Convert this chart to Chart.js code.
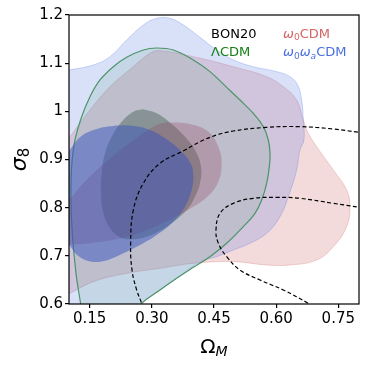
<!DOCTYPE html>
<html><head><meta charset="utf-8">
<script src="https://cdn.jsdelivr.net/npm/chart.js@4.4.1/dist/chart.umd.min.js"></script>
<style>html,body{margin:0;padding:0;background:#fff;overflow:hidden}canvas{display:block}</style>
</head><body>
<canvas id="c" width="373" height="367"></canvas>
<script>
// ---- tick labels ----
const xTicks=[0.15,0.30,0.45,0.60,0.75];
const xTickLabels=["0.15","0.30","0.45","0.60","0.75"];
const yTicks=[0.6,0.7,0.8,0.9,1.0,1.1,1.2];
const yTickLabels=["0.6","0.7","0.8","0.9","1","1.1","1.2"];
const xTitle=["Ω","M"];
const yTitle=["σ","8"];
// ---- series names (text after "_" is a subscript character) ----
const seriesNames=["BON20","ΛCDM","ω_0CDM","ω_0ω_aCDM"];
const seriesColors=["#000000","#138013","#d46464","#4a6fe0"];
// ---- contour: omega0 omega_a CDM (2 sigma) ----
const waOuterX=[0.05,0.10,0.1587,0.199,0.2392,0.2794,0.3116,0.3438,0.376,0.4162,0.4564,0.4967,0.5449,0.6013,0.6334,0.6519,0.6616,0.6656,0.6672,0.6576,0.6495,0.6294,0.6093,0.5771,0.5369,0.4967,0.4564,0.4162,0.3599,0.3196,0.2754,0.2553,0.20,0.05];
const waOuterY=[1.078,1.0858,1.0962,1.1135,1.1481,1.1792,1.1931,1.1931,1.1792,1.1536,1.1273,1.1066,1.0927,1.0824,1.072,1.0547,1.0235,0.982,0.9405,0.92,0.878,0.8228,0.7813,0.7467,0.726,0.7121,0.6983,0.6879,0.6533,0.6291,0.6014,0.5806,0.56,0.56];
// ---- contour: omega0 CDM (2 sigma) ----
const w0OuterX=[0.0541,0.1024,0.1507,0.199,0.2553,0.2955,0.3196,0.4001,0.4967,0.5771,0.6173,0.6495,0.6656,0.6777,0.6978,0.738,0.7702,0.7782,0.7702,0.738,0.6978,0.6334,0.5771,0.4967,0.4001,0.3196,0.2392,0.1587,0.1024,0.0541];
const w0OuterY=[0.892,0.9474,1.0028,1.0512,1.0927,1.1204,1.126,1.1135,1.0927,1.072,1.0512,1.0235,0.982,0.9543,0.9266,0.8782,0.8367,0.8021,0.7606,0.719,0.6913,0.681,0.681,0.6879,0.6844,0.674,0.6637,0.6464,0.6221,0.6014];
// ---- contour: LambdaCDM (2 sigma) ----
const lcdmOuterX=[0.1282,0.1169,0.108,0.1048,0.1064,0.1145,0.1306,0.1507,0.1748,0.207,0.2392,0.2794,0.3116,0.3518,0.4001,0.4403,0.4806,0.5127,0.5449,0.5691,0.5811,0.5852,0.5836,0.5771,0.5651,0.549,0.5208,0.4806,0.4403,0.4001,0.3599,0.3196,0.2754,0.2472,0.175,0.1306];
const lcdmOuterY=[0.60,0.6637,0.7467,0.8159,0.8851,0.9405,0.9889,1.0304,1.0651,1.0927,1.1121,1.1273,1.1315,1.1273,1.1066,1.0824,1.0498,1.0235,0.9958,0.9682,0.9405,0.9128,0.8851,0.8505,0.8159,0.7882,0.7606,0.726,0.6983,0.6761,0.6533,0.6291,0.6014,0.5668,0.553,0.567];
// ---- contour: LambdaCDM (1 sigma) ----
const lcdmInnerX=[0.2794,0.3116,0.3438,0.376,0.4041,0.4186,0.4162,0.4041,0.384,0.3357,0.2875,0.2472,0.2231,0.199,0.1829,0.1772,0.1788,0.1869,0.203,0.2272,0.2553];
const lcdmInnerY=[1.0042,0.9958,0.9765,0.9509,0.9197,0.8851,0.8505,0.8228,0.7952,0.7606,0.7398,0.7343,0.7384,0.7571,0.7882,0.8298,0.8713,0.9128,0.9474,0.9785,0.9993];
// ---- contour: omega0 CDM (1 sigma) ----
const w0InnerX=[0.3357,0.392,0.4363,0.4605,0.4685,0.4605,0.4323,0.384,0.3277,0.2714,0.215,0.1587,0.10,0.0622,0.054,0.0702,0.10,0.1266,0.1587,0.199,0.2392,0.2794,0.3116];
const w0InnerY=[0.9772,0.9737,0.9578,0.9266,0.892,0.854,0.8215,0.7938,0.7689,0.7481,0.7343,0.7273,0.7239,0.729,0.7605,0.7952,0.8159,0.8436,0.8713,0.9024,0.9301,0.9543,0.9716];
// ---- contour: omega0 omega_a CDM (1 sigma) ----
const waInnerX=[0.0863,0.10,0.1266,0.1587,0.207,0.2553,0.2955,0.3357,0.372,0.3937,0.4001,0.3961,0.38,0.3518,0.3116,0.2714,0.2311,0.199,0.1748,0.1467,0.1225,0.1064,0.0903,0.0823];
const waInnerY=[0.9059,0.9183,0.946,0.9612,0.9696,0.9696,0.9612,0.9419,0.9163,0.892,0.8678,0.8367,0.8021,0.7709,0.7433,0.7225,0.7052,0.6927,0.6879,0.6893,0.6997,0.7156,0.7398,0.8159];
// ---- BON20 dashed curves ----
const bonAX=[0.279,0.2754,0.2633,0.2521,0.2488,0.2553,0.2794,0.3196,0.38,0.4162,0.4564,0.4967,0.5771,0.6576,0.738,0.80,0.82];
const bonAY=[0.59,0.6014,0.6291,0.6706,0.726,0.7952,0.8505,0.892,0.9197,0.937,0.9509,0.9592,0.9668,0.9682,0.9633,0.9564,0.954];
const bonBX=[0.69,0.6777,0.6173,0.561,0.5127,0.4806,0.4605,0.4548,0.4645,0.4967,0.5449,0.6013,0.6576,0.738,0.80,0.82];
const bonBY=[0.594,0.6014,0.6291,0.6498,0.6706,0.6983,0.726,0.7536,0.7882,0.809,0.8194,0.8215,0.8194,0.809,0.8007,0.797];

function pts(xs,ys,close){
  const p=xs.map((x,i)=>({x:x,y:ys[i]}));
  if(close) p.push({x:xs[0],y:ys[0]});
  return p;
}
function contour(xs,ys,fillC,lineC,lw,order){
  return {data:pts(xs,ys,true),showLine:true,fill:'shape',backgroundColor:fillC,
    borderColor:lineC,borderWidth:lw,tension:0.4,pointRadius:0,order:order};
}
const datasets=[
  {data:pts(bonAX,bonAY,false),showLine:true,fill:false,borderColor:'#000',borderWidth:1.2,borderDash:[4,2.5],tension:0.4,pointRadius:0,order:0},
  {data:pts(bonBX,bonBY,false),showLine:true,fill:false,borderColor:'#000',borderWidth:1.2,borderDash:[4,2.5],tension:0.4,pointRadius:0,order:0},
  contour(waInnerX,waInnerY,'rgba(55,85,190,0.50)','rgba(0,0,0,0)',0,1),
  contour(w0InnerX,w0InnerY,'rgba(150,70,100,0.30)','rgba(0,0,0,0)',0,2),
  contour(lcdmInnerX,lcdmInnerY,'rgba(70,95,80,0.45)','rgba(0,0,0,0)',0,3),
  contour(lcdmOuterX,lcdmOuterY,'rgba(46,139,87,0.12)','#4b9468',1.2,4),
  contour(waOuterX,waOuterY,'rgba(65,105,225,0.20)','rgba(65,105,225,0.25)',1,5),
  contour(w0OuterX,w0OuterY,'rgba(205,92,92,0.22)','rgba(205,92,92,0.25)',1,6)
];

const FONT='"DejaVu Sans"';
function drawRich(ctx,x,y,str,color,size){
  let cx=x;
  ctx.fillStyle=color; ctx.textBaseline='alphabetic'; ctx.textAlign='left';
  for(let i=0;i<str.length;i++){
    let ch=str[i], sub=false;
    if(ch==='_'){ sub=true; i++; ch=str[i]; }
    const ital=(ch==='ω'||sub&&/[a-z]/.test(ch));
    const sz=sub?size*0.7:size;
    ctx.font=(ital?'italic ':'')+sz+'px '+FONT;
    ctx.fillText(ch,cx,y+(sub?size*0.2:0));
    cx+=ctx.measureText(ch).width;
  }
  return cx-x;
}
const decor={
  id:'decor',
  afterDatasetsDraw(chart){
    const {ctx,chartArea:a}=chart;
    ctx.save();
    ctx.strokeStyle='#000'; ctx.lineWidth=1.2;
    ctx.strokeRect(a.left,a.top,a.right-a.left,a.bottom-a.top);
    ctx.restore();
  },
  afterDraw(chart){
    const {ctx,chartArea:a}=chart;
    ctx.save();
    const lx=[a.left+142,a.left+214], ly=[a.top+22.5,a.top+41];
    drawRich(ctx,lx[0],ly[0],seriesNames[0],seriesColors[0],13);
    drawRich(ctx,lx[0],ly[1],seriesNames[1],seriesColors[1],13);
    drawRich(ctx,lx[1],ly[0],seriesNames[2],seriesColors[2],13);
    drawRich(ctx,lx[1],ly[1],seriesNames[3],seriesColors[3],13);
    ctx.fillStyle='#000'; ctx.textBaseline='alphabetic'; ctx.textAlign='left';
    ctx.font='20px '+FONT; const w1=ctx.measureText(xTitle[0]).width;
    ctx.font='italic 14px '+FONT; const w2=ctx.measureText(xTitle[1]).width;
    const cx=(a.left+a.right)/2-(w1+w2)/2;
    ctx.font='20px '+FONT; ctx.fillText(xTitle[0],cx,352.5);
    ctx.font='italic 14px '+FONT; ctx.fillText(xTitle[1],cx+w1,355.5);
    ctx.translate(26,(a.top+a.bottom)/2); ctx.rotate(-Math.PI/2);
    ctx.font='italic 22px '+FONT; const s1=ctx.measureText(yTitle[0]).width;
    ctx.font='15px '+FONT; const s2=ctx.measureText(yTitle[1]).width;
    const sx=-(s1+s2)/2;
    ctx.font='italic 22px '+FONT; ctx.fillText(yTitle[0],sx,0);
    ctx.font='15px '+FONT; ctx.fillText(yTitle[1],sx+s1,3);
    ctx.restore();
  }
};

new Chart(document.getElementById('c'),{
  type:'scatter',
  data:{datasets:datasets},
  options:{
    responsive:false,animation:false,devicePixelRatio:1,
    layout:{padding:{top:15,right:14,left:0,bottom:0}},
    plugins:{legend:{display:false},tooltip:{enabled:false}},
    elements:{point:{radius:0},line:{capBezierPoints:false}},
    scales:{
      x:{type:'linear',min:0.1,max:0.8,
        afterBuildTicks(s){s.ticks=xTicks.map(v=>({value:v}));},
        afterFit(s){s.height=63;},
        ticks:{callback:(v,i)=>xTickLabels[i],font:{family:'DejaVu Sans',size:15},color:'#000',padding:2,maxRotation:0,autoSkip:false},
        grid:{display:true,drawOnChartArea:false,drawTicks:true,tickLength:4,color:'#000',lineWidth:1.2},
        border:{display:false}},
      y:{type:'linear',min:0.6,max:1.2,
        afterBuildTicks(s){s.ticks=yTicks.map(v=>({value:v}));},
        afterFit(s){s.width=69;},
        ticks:{callback:(v,i)=>yTickLabels[i],font:{family:'DejaVu Sans',size:15},color:'#000',padding:2,autoSkip:false},
        grid:{display:true,drawOnChartArea:false,drawTicks:true,tickLength:4,color:'#000',lineWidth:1.2},
        border:{display:false}}
    }
  },
  plugins:[decor]
});
</script>
</body></html>
